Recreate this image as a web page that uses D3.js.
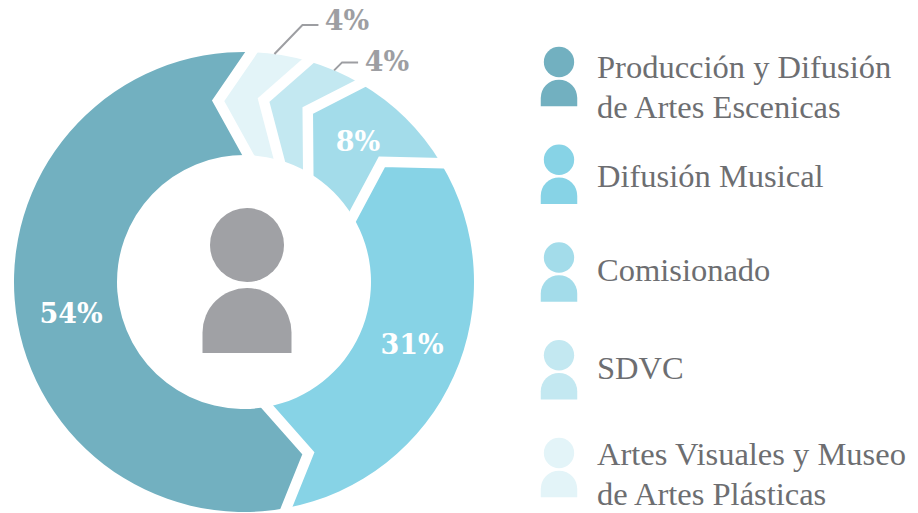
<!DOCTYPE html>
<html><head><meta charset="utf-8">
<script src="https://cdn.jsdelivr.net/npm/d3@7/dist/d3.min.js"></script>
<style>html,body{margin:0;padding:0;background:#fff;overflow:hidden}svg{display:block}</style>
</head><body><svg id="c" width="918" height="513"></svg>
<script>
// Data, in clockwise ring order
const ringCategories = ["Producción y Difusión de Artes Escenicas","Artes Visuales y Museo de Artes Plásticas","SDVC","Comisionado","Difusión Musical"];
const ringValues = [54,4,4,8,31];
const ringColors = ["#72b0c0","#e3f4f8","#c3e8f1","#a3dcea","#87d3e6"];
// Legend, top to bottom
const legendKeys = ["Producción y Difusión de Artes Escenicas","Difusión Musical","Comisionado","SDVC","Artes Visuales y Museo de Artes Plásticas"];
const legendLines = [["Producción y Difusión","de Artes Escenicas"],["Difusión Musical"],["Comisionado"],["SDVC"],["Artes Visuales y Museo","de Artes Plásticas"]];
const legendTextOffset = [16,27,23,24,12];

const cx=244, cy=282, R=230, r=127, rMid=183;
const notch=-10*Math.PI/180, gap=10.5;
const toRad=d=>d*Math.PI/180;
const svg=d3.select("#c");
const start=toRad(169.4);
const arcs=d3.pie().sort(null).value(d=>d).startAngle(start).endAngle(start+2*Math.PI)(ringValues);
const pt=(a,rad)=>[rad*Math.sin(a),-rad*Math.cos(a)];
const g=svg.append("g").attr("transform",`translate(${cx},${cy})`);
function slicePath(a0,a1){
  const p=d3.path(),q=(f,a,rad)=>{const [x,y]=pt(a,rad);p[f](x,y)};
  q("moveTo",a0,r); q("lineTo",a0+notch,rMid); q("lineTo",a0,R);
  p.arc(0,0,R,a0-Math.PI/2,a1-Math.PI/2,false);
  q("lineTo",a1+notch,rMid); q("lineTo",a1,r);
  p.arc(0,0,r,a1-Math.PI/2,a0-Math.PI/2,true);
  p.closePath(); return p.toString();
}
g.selectAll("path.s").data(arcs).join("path").attr("class","s")
 .attr("d",d=>slicePath(d.startAngle,d.endAngle)).attr("fill",(d,i)=>ringColors[i]);
// white gaps: each edge of the chevron is prolonged past the ring along its own direction
g.selectAll("path.b").data(arcs).join("path").attr("class","b")
 .attr("d",d=>{
   const a=d.startAngle, m=pt(a+notch,rMid), i=pt(a,r), o=pt(a,R);
   const ext=(e)=>[e[0]+(e[0]-m[0])*0.4,e[1]+(e[1]-m[1])*0.4];
   return d3.line()([ext(i),m,ext(o)]);
 })
 .attr("fill","none").attr("stroke","#fff").attr("stroke-width",gap).attr("stroke-linejoin","miter");

// Person icon
function person(sel,x,y,s,color){
  const w=44.5*s, top=y+43*s, base=y+108*s;
  sel.append("circle").attr("cx",x).attr("cy",y).attr("r",37*s).attr("fill",color);
  const p=d3.path();p.moveTo(x-w,base);p.lineTo(x-w,top+w);p.arc(x,top+w,w,Math.PI,0,false);p.lineTo(x+w,base);p.closePath();
  sel.append("path").attr("d",p.toString()).attr("fill",color);
}
person(svg,247,245,1,"#a0a1a5");

// Leader lines
const leaderGrey="#9d9ea2";
[[1,-1.4,[28,-29],16],[2,-0.2,[8,-8],16]].forEach(([i,da,e,h])=>{
  const mid=(arcs[i].startAngle+arcs[i].endAngle)/2+toRad(da);
  const [x,y]=pt(mid,R);
  g.append("path").attr("d",d3.line()([[x,y],[x+e[0],y+e[1]],[x+e[0]+h,y+e[1]]]))
   .attr("fill","none").attr("stroke",leaderGrey).attr("stroke-width",2);
});

// Percent labels
const labelFont='"DejaVu Serif",serif';
const labelPos=[[71,313,"#fff"],[412,344,"#fff"],[358,141,"#fff"],[347,20,leaderGrey],[387,61,leaderGrey]];
[0,4,3,1,2].forEach((i,k)=>{
  svg.append("text").attr("x",labelPos[k][0]).attr("y",labelPos[k][1]).attr("dy","0.36em")
   .attr("text-anchor","middle").attr("font-family",labelFont).attr("font-weight","bold")
   .attr("font-size",27).attr("fill",labelPos[k][2]).text(ringValues[i]+"%");
});

// Legend
const ly=d3.scalePoint().domain(legendKeys).range([62,453]);
legendKeys.forEach((k,i)=>{
  const y=ly(k);
  person(svg,559,y,0.41,ringColors[ringCategories.indexOf(k)]);
  const lines=legendLines[i];
  const t=svg.append("text").attr("font-family",'"Liberation Serif",serif').attr("font-size",32.5).attr("fill","#6d6e71");
  lines.forEach((s,j)=>t.append("tspan").attr("x",597).attr("y",y+legendTextOffset[i]+j*40).text(s));
});
</script></body></html>
